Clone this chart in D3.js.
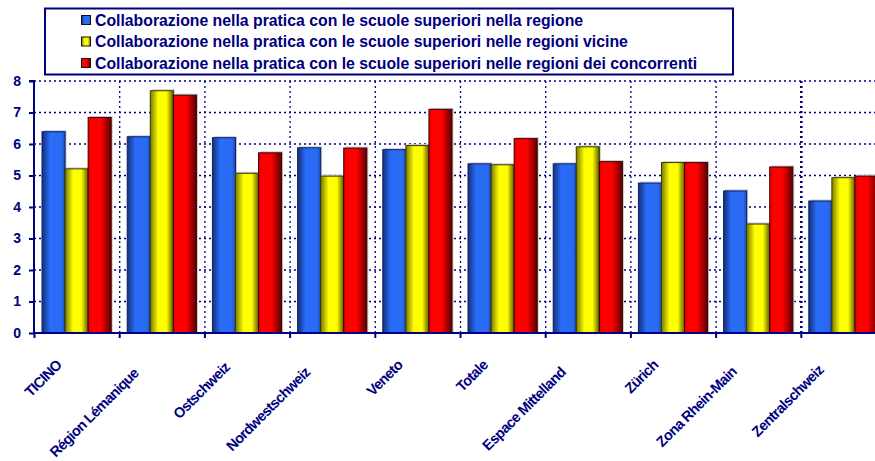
<!DOCTYPE html>
<html><head><meta charset="utf-8">
<script src="https://cdn.jsdelivr.net/npm/d3@7/dist/d3.min.js"></script>
<style>
html,body{margin:0;padding:0;background:#fff;overflow:hidden}
svg{display:block}
text{font-family:"Liberation Sans",Arial,sans-serif;font-weight:bold;fill:#000080}
</style></head>
<body><svg id="c" width="875" height="461"></svg>
<script>
const categories = ["TICINO","Région Lémanique","Ostschweiz","Nordwestschweiz","Veneto","Totale","Espace Mittelland","Zürich","Zona Rhein-Main","Zentralschweiz"];
const seriesNames = [
  "Collaborazione nella pratica con le scuole superiori nella regione",
  "Collaborazione nella pratica con le scuole superiori nelle regioni vicine",
  "Collaborazione nella pratica con le scuole superiori nelle regioni dei concorrenti"
];
const regione    = [6.39, 6.23, 6.20, 5.88, 5.82, 5.37, 5.37, 4.76, 4.51, 4.19];
const vicine     = [5.21, 7.69, 5.07, 4.98, 5.95, 5.34, 5.91, 5.41, 3.46, 4.93];
const concorrenti= [6.84, 7.55, 5.72, 5.87, 7.10, 6.17, 5.44, 5.41, 5.27, 4.98];
const yTicks = [0,1,2,3,4,5,6,7,8];

const series = [regione, vicine, concorrenti];
const navy = "#000080";
const svg = d3.select("#c");
const L = 34, R = 886, T = 81, B = 333;

const defs = svg.append("defs");
const grads = [
  [[0,"#142f78"],[0.35,"#2a6cf8"],[0.85,"#2a6af2"],[1,"#1c4cb0"]],
  [[0,"#7a7a00"],[0.35,"#ffff00"],[0.7,"#ffff00"],[1,"#5e5e00"]],
  [[0,"#e00000"],[0.15,"#ff0000"],[0.55,"#ff0000"],[1,"#5a0000"]]
];
grads.forEach((st,i)=>{
  const g = defs.append("linearGradient").attr("id","g"+i).attr("x1","0").attr("x2","1").attr("y1","0").attr("y2","0");
  st.forEach(s=>g.append("stop").attr("offset",s[0]).attr("stop-color",s[1]));
});
const strokes = ["#0a1f6a","#3a3a00","#3a0000"];

const x0 = d3.scaleBand().domain(categories).range([L,R]).padding(0);
const x1 = d3.scaleBand().domain([0,1,2]).range([8, x0.bandwidth()-8]).padding(0);
const y = d3.scaleLinear().domain([0,8]).range([B,T]);

// gridlines
const grid = svg.append("g");
yTicks.filter(t=>t>0).forEach(t=>{
  grid.append("line").attr("x1",L).attr("x2",R).attr("y1",y(t)).attr("y2",y(t))
    .attr("stroke",navy).attr("stroke-width",1.3).attr("stroke-dasharray","2,3");
});
categories.forEach((c,i)=>{
  if(i===0) return;
  grid.append("line").attr("x1",x0(c)+0.5).attr("x2",x0(c)+0.5).attr("y1",T).attr("y2",B)
    .attr("stroke",navy).attr("stroke-width",i===9?2.6:1.3).attr("stroke-dasharray","2,3");
});

// bars
const bars = svg.append("g");
categories.forEach((c,i)=>{
  series.forEach((s,k)=>{
    const bx = x0(c)+x1(k), bw = x1.bandwidth(), by = y(s[i]);
    bars.append("rect").attr("x",bx+1.5).attr("y",by-1.5).attr("width",bw).attr("height",B-by+1.5)
      .attr("fill","#c8c8d0");
  });
  series.forEach((s,k)=>{
    const bx = x0(c)+x1(k), bw = x1.bandwidth(), by = y(s[i]);
    bars.append("rect").attr("x",bx).attr("y",by).attr("width",bw).attr("height",B-by)
      .attr("fill","url(#g"+k+")").attr("stroke",strokes[k]).attr("stroke-width",1);
  });
});

// axes
const yAxis = d3.axisLeft(y).tickValues(yTicks).tickSize(5).tickFormat(d3.format("d"));
const ya = svg.append("g").attr("transform",`translate(${L},0)`).call(yAxis);
ya.select(".domain").attr("stroke",navy).attr("stroke-width",2).attr("d",`M-5,${T}H0V${B}`);
ya.selectAll(".tick line").attr("stroke",navy).attr("stroke-width",2);
ya.selectAll(".tick text").attr("font-size",14).attr("x",-13).attr("fill",navy)
  .attr("font-family","Liberation Sans, Arial, sans-serif").attr("font-weight","bold");

const xa = svg.append("g");
xa.append("line").attr("x1",L-1).attr("x2",R).attr("y1",B).attr("y2",B).attr("stroke",navy).attr("stroke-width",2);
categories.forEach(c=>{
  xa.append("line").attr("x1",x0(c)+0.5).attr("x2",x0(c)+0.5).attr("y1",B).attr("y2",B+5).attr("stroke",navy).attr("stroke-width",2);
});
categories.forEach(c=>{
  const cx = x0(c)+x0.bandwidth()/2;
  const t = xa.append("text").attr("font-size",14.5).attr("letter-spacing","-0.7px").attr("text-anchor","end").text(c);
  const len = t.node().getComputedTextLength();
  const k = Math.max(0,len-55)*0.13;
  t.attr("transform",`translate(${cx-14-k},${366+k}) rotate(-45)`);
});

// legend
const lg = svg.append("g");
lg.append("rect").attr("x",45).attr("y",8.5).attr("width",688).attr("height",66)
  .attr("fill","#fff").attr("stroke",navy).attr("stroke-width",2);
const rowsY = [20, 41.5, 63];
seriesNames.forEach((n,k)=>{
  lg.append("rect").attr("x",81.5).attr("y",rowsY[k]-4.5).attr("width",9).attr("height",9)
    .attr("fill","url(#g"+k+")").attr("stroke","#111").attr("stroke-width",1);
  lg.append("text").attr("x",95).attr("y",rowsY[k]+5.5).attr("font-size",15.8).text(n);
});
</script></body></html>
